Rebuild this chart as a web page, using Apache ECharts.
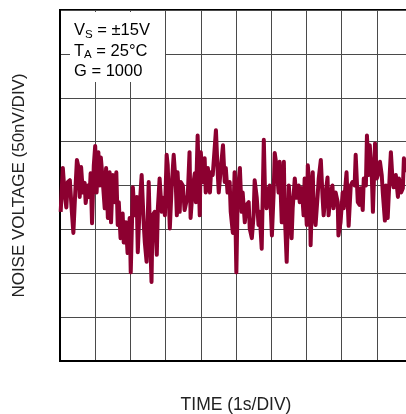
<!DOCTYPE html>
<html><head><meta charset="utf-8">
<script src="https://cdn.jsdelivr.net/npm/echarts@6/dist/echarts.min.js"></script>
<style>html,body{margin:0;padding:0;background:#fff;overflow:hidden}#c{width:406px;height:414px}</style>
</head><body><div id="c"></div>
<script>
// time (s) and noise voltage (nV)
var timeS = [0.02,0.08,0.13,0.18,0.22,0.28,0.33,0.38,0.42,0.48,0.53,0.56,0.60,0.65,0.70,0.73,0.79,0.84,0.87,0.91,0.96,1.00,1.04,1.09,1.13,1.16,1.21,1.27,1.31,1.36,1.41,1.45,1.50,1.56,1.60,1.64,
1.67,1.72,1.78,1.81,1.87,1.92,1.98,2.01,2.07,2.12,2.18,2.21,2.26,2.32,2.38,2.41,2.46,2.52,2.55,2.60,2.63,2.69,2.75,2.78,2.83,2.89,2.92,2.98,3.03,3.06,3.12,3.17,3.23,
3.29,3.32,3.34,3.40,3.43,3.49,3.54,3.57,3.63,3.68,3.71,3.77,3.83,3.86,3.91,3.97,4.00,4.06,4.11,4.14,4.20,4.26,4.29,4.34,4.40,4.43,4.48,4.51,4.57,4.63,4.68,4.71,4.76,4.82,4.85,4.91,
4.96,5.01,5.05,5.11,5.16,5.19,5.25,5.30,5.36,5.39,5.45,5.50,5.53,5.59,5.64,5.67,5.73,5.79,5.82,5.87,5.93,5.96,6.02,6.07,6.10,6.16,6.21,6.24,6.30,6.36,6.38,6.44,6.50,
6.53,6.58,6.61,6.67,6.72,6.78,6.81,6.87,6.92,6.95,7.01,7.04,7.10,7.12,7.18,7.21,7.26,7.32,7.35,7.41,7.46,7.49,7.55,7.60,7.63,7.69,7.74,7.77,7.83,7.89,7.91,7.97,8.03,8.06,8.11,8.14,
8.20,8.26,8.31,8.37,8.40,8.46,8.51,8.54,8.60,8.63,8.69,8.72,8.77,8.80,8.86,8.89,8.95,9.00,9.03,9.09,9.14,9.17,9.23,9.26,9.31,9.37,9.40,9.45,9.48,9.54,9.60,9.63,9.69,9.74,9.77,9.83];
var noiseNV = [-30,20,-8,-25,4,6,-26,-54,-19,29,20,-13,21,-8,3,-20,0,-13,14,-43,23,45,-8,38,0,32,8,-26,20,-37,15,-42,12,-19,15,-45,
-19,-60,-32,-65,-42,-77,-37,-99,-2,-34,-13,-76,-26,12,-45,-65,-87,4,-45,-110,-34,-30,-79,-26,8,-30,-14,-34,35,23,-49,-3,35,
0,-34,15,-30,4,0,-28,-30,-11,38,-37,-3,14,-19,57,-34,38,4,31,-8,20,-8,15,12,46,63,15,-8,20,46,4,20,-8,4,-30,-54,
15,-99,-8,20,-30,-8,-42,-22,-19,-49,-60,-34,6,-14,-45,-30,-72,52,0,-26,-3,0,-57,-8,37,20,-8,27,-42,27,-26,-87,0,
-19,-60,-26,8,-14,0,-19,-3,-34,8,-45,23,-8,-68,15,-30,-45,-11,8,29,-14,-34,-8,9,-34,-8,0,-26,-8,-19,-57,-42,-8,-26,0,15,
-46,0,4,0,35,-19,-22,-3,-28,8,0,57,12,46,8,-30,48,8,12,27,12,-8,-40,0,-37,15,38,4,-2,12,-13,8,-8,-3,31,15];
var xTitle = 'TIME (1s/DIV)';
var yTitle = 'NOISE VOLTAGE (50nV/DIV)';
var noteLines = [['V','S',' = ±15V'],['T','A',' = 25°C'],['G','',' = 1000']];

var FONT = '"Liberation Sans Narrow","Liberation Sans",Arial,sans-serif';
var chart = echarts.init(document.getElementById('c'), null, {renderer:'canvas'});
var data = timeS.map(function(t,i){return [t, noiseNV[i]];});
var rich = {a:{fontSize:16.5, fontFamily:FONT, color:'#111', lineHeight:20.5},
            s:{fontSize:11.5, fontFamily:FONT, color:'#111', verticalAlign:'bottom', lineHeight:13}};
var noteText = noteLines.map(function(l){return '{a|'+l[0]+'}'+(l[1]?'{s|'+l[1]+'}':'')+'{a|'+l[2]+'}';}).join('\n');
chart.setOption({
  animation:false,
  grid:{left:60, top:10, bottom:53, right:-6, containLabel:false, outerBoundsMode:'none',
        show:true, borderColor:'#000', borderWidth:2, backgroundColor:'#fff'},
  xAxis:{type:'value', min:0, max:10, interval:1,
    name:xTitle, nameLocation:'middle', nameGap:35,
    nameTextStyle:{fontFamily:FONT, fontSize:17.5, color:'#222'},
    axisLine:{show:true, onZero:false, lineStyle:{color:'#000', width:2}}, axisTick:{show:false}, axisLabel:{show:false},
    splitLine:{show:true, lineStyle:{color:'#4a4a4a', width:1}}},
  yAxis:{type:'value', min:-200, max:200, interval:50,
    name:yTitle, nameLocation:'middle', nameGap:32, nameRotate:90,
    nameTextStyle:{fontFamily:FONT, fontSize:17, color:'#222'},
    axisLine:{show:true, onZero:false, lineStyle:{color:'#000', width:2}}, axisTick:{show:false}, axisLabel:{show:false},
    splitLine:{show:true, lineStyle:{color:'#4a4a4a', width:1}}},
  graphic:[
    {type:'rect', z:1, shape:{x:70, y:12, width:95, height:70}, style:{fill:'#fff'}},
    {type:'text', z:2, left:74, top:22, style:{text:noteText, rich:rich}}
  ],
  series:[{type:'line', data:data, showSymbol:false, z:3,
    lineStyle:{color:'#8c0030', width:4, join:'round'}}]
});
</script></body></html>
